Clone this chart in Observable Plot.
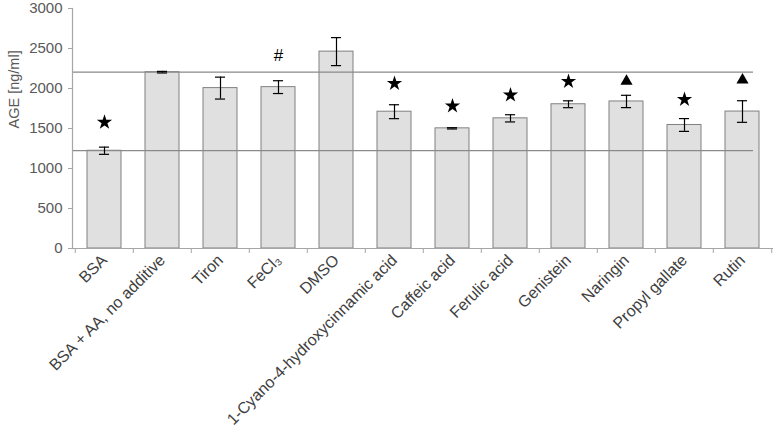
<!DOCTYPE html>
<html><head><meta charset="utf-8">
<script src="https://cdn.jsdelivr.net/npm/d3@7"></script>
<script src="https://cdn.jsdelivr.net/npm/@observablehq/plot@0.6"></script>
<style>body{margin:0;background:#fff;}</style>
</head><body><div id="chart"></div>
<script>
const categories = ["BSA", "BSA + AA, no additive", "Tiron", "FeCl₃", "DMSO", "1-Cyano-4-hydroxycinnamic acid", "Caffeic acid", "Ferulic acid", "Genistein", "Naringin", "Propyl gallate", "Rutin"];
const values = [1222, 2204, 2005, 2017, 2461, 1710, 1502, 1627, 1803, 1838, 1544, 1712];
const errors = [45, 10, 137, 80, 175, 87, 8, 45, 43, 77, 80, 135];
const markerY = [1577, null, null, 2407, null, 2062, 1781, 1918, 2087, 2092, 1863, 2105];
const markerType = ["star", null, null, "hash", null, "star", "star", "star", "star", "triangle", "star", "triangle"];
const refLines = [2204, 1224];
const yTicks = [0, 500, 1000, 1500, 2000, 2500, 3000];
const yLabel = "AGE [ng/ml]";

const data = categories.map((c, i) => ({c, v: values[i], e: errors[i], my: markerY[i], mt: markerType[i]}));
const W = 777, H = 431, mL = 72, mR = 4, mT = 8, mB = 183;
const step = (W - mL - mR) / categories.length;
const barW = step * 0.58;
const capInset = (barW - 10) / 2;
const axisGray = "#a6a6a6";
const textGray = "#595959";

const chart = Plot.plot({
  width: W, height: H,
  marginLeft: mL, marginRight: mR, marginTop: mT, marginBottom: mB,
  style: {fontFamily: "'Liberation Sans', Arial, sans-serif", fontSize: "13px", background: "#fff"},
  x: {type: "band", domain: categories, paddingInner: 0.42, paddingOuter: 0.21, axis: null},
  y: {domain: [0, 3000], axis: null},
  marks: [
    Plot.barY(data, {x: "c", y: "v", fill: "#e0e0e0", stroke: "#808080", strokeWidth: 1}),
    Plot.ruleY(refLines, {stroke: "#8a8a8a", strokeWidth: 1.3, insetRight: 20}),
    Plot.ruleX(data, {x: "c", y1: d => d.v - d.e, y2: d => d.v + d.e, stroke: "#000", strokeWidth: 1.2}),
    Plot.tickY(data, {x: "c", y: d => d.v - d.e, stroke: "#000", strokeWidth: 1.2, insetLeft: capInset, insetRight: capInset}),
    Plot.tickY(data, {x: "c", y: d => d.v + d.e, stroke: "#000", strokeWidth: 1.2, insetLeft: capInset, insetRight: capInset}),
    Plot.dot(data.filter(d => d.mt === "star"), {x: "c", y: "my", symbol: "star", r: 4.8, fill: "#000", stroke: null}),
    Plot.dot(data.filter(d => d.mt === "triangle"), {x: "c", y: "my", symbol: "triangle", r: 4.5, fill: "#000", stroke: null}),
    Plot.text(data.filter(d => d.mt === "hash"), {x: "c", y: "my", text: () => "#", fontSize: 17, fill: "#000"}),
    Plot.ruleY([0], {stroke: axisGray, strokeWidth: 1.2}),
    Plot.frame({anchor: "left", stroke: axisGray, strokeWidth: 1.2}),
    Plot.axisY({ticks: yTicks, text: null, tickSize: 4, stroke: axisGray, label: null}),
    Plot.axisY({ticks: yTicks, tickSize: 0, tickPadding: 10, fontSize: 15, color: textGray, label: null, tickFormat: d => String(d)}),
    Plot.axisX({ticks: categories, text: null, tickSize: 5, dx: -step / 2, stroke: axisGray, label: null}),
    Plot.axisX({ticks: [categories[categories.length - 1]], text: null, tickSize: 5, dx: step / 2, stroke: axisGray, label: null}),
    Plot.axisX({tickSize: 0, tickPadding: 9, tickRotate: -45, fontSize: 16, color: "#404040", label: null}),
    Plot.text([yLabel], {frameAnchor: "left", rotate: -90, dx: -58, fontSize: 14.5, fill: textGray})
  ]
});
document.getElementById("chart").appendChild(chart);
</script>
</body></html>
